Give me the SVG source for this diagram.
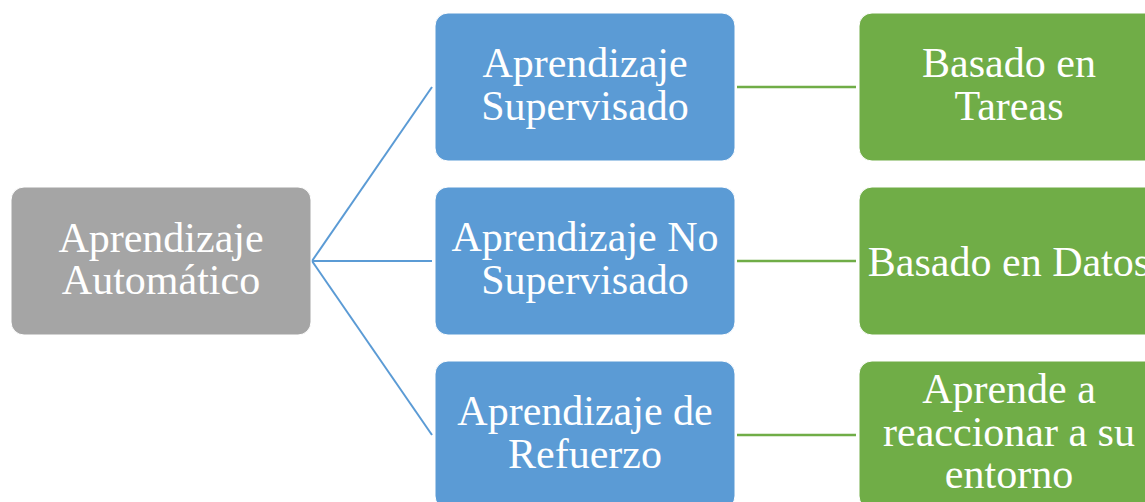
<svg xmlns="http://www.w3.org/2000/svg" width="1145" height="502" viewBox="0 0 1145 502">
<style>
.node{stroke:#ffffff;stroke-width:1}
.grey{fill:#a5a5a5}
.blue{fill:#5b9bd5}
.green{fill:#70ad47}
.t{font-family:"Liberation Serif","Times New Roman",serif;font-size:42px;fill:#ffffff;text-anchor:middle}
.cb{stroke:#5b9bd5;stroke-width:2;fill:none}
.cg{stroke:#70ad47;stroke-width:2.5;fill:none}
</style>
<rect width="1145" height="502" fill="#ffffff"/>
<g id="connectors">
<line class="cb" x1="312" y1="261" x2="432" y2="87"/>
<line class="cb" x1="312" y1="261" x2="432" y2="261"/>
<line class="cb" x1="312" y1="261" x2="432" y2="435"/>
<line class="cg" x1="737" y1="87" x2="856" y2="87"/>
<line class="cg" x1="737" y1="261" x2="856" y2="261"/>
<line class="cg" x1="737" y1="435" x2="856" y2="435"/>
</g>
<g id="n-root">
<rect class="node grey" x="11" y="187" width="300" height="148" rx="13"/>
<text class="t" x="161" y="252">Aprendizaje</text>
<text class="t" x="161" y="294">Automático</text>
</g>
<g id="n-sup">
<rect class="node blue" x="435" y="13" width="300" height="148" rx="13"/>
<text class="t" x="585" y="77">Aprendizaje</text>
<text class="t" x="585" y="120">Supervisado</text>
</g>
<g id="n-nosup">
<rect class="node blue" x="435" y="187" width="300" height="148" rx="13"/>
<text class="t" x="585" y="251">Aprendizaje No</text>
<text class="t" x="585" y="294">Supervisado</text>
</g>
<g id="n-ref">
<rect class="node blue" x="435" y="361" width="300" height="148" rx="13"/>
<text class="t" x="585" y="425">Aprendizaje de</text>
<text class="t" x="585" y="468">Refuerzo</text>
</g>
<g id="n-tareas">
<rect class="node green" x="859" y="13" width="300" height="148" rx="13"/>
<text class="t" x="1009" y="77">Basado en</text>
<text class="t" x="1009" y="120">Tareas</text>
</g>
<g id="n-datos">
<rect class="node green" x="859" y="187" width="300" height="148" rx="13"/>
<text class="t" x="1009" y="276">Basado en Datos</text>
</g>
<g id="n-entorno">
<rect class="node green" x="859" y="361" width="300" height="148" rx="13"/>
<text class="t" x="1009" y="403">Aprende a</text>
<text class="t" x="1009" y="446">reaccionar a su</text>
<text class="t" x="1009" y="488">entorno</text>
</g>
</svg>
